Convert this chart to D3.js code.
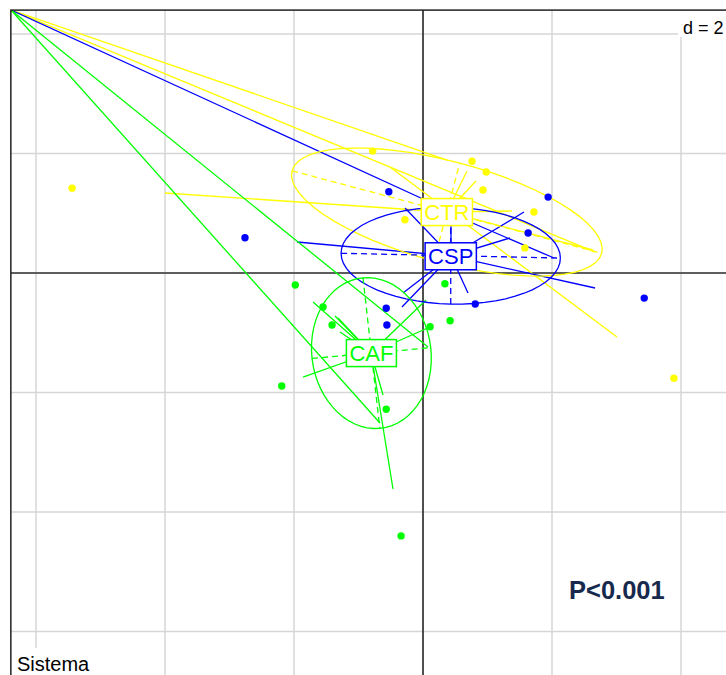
<!DOCTYPE html>
<html><head><meta charset="utf-8">
<script src="https://cdn.jsdelivr.net/npm/d3@7"></script>
<style>body{margin:0;background:#fff}svg{display:block}</style>
</head><body>
<script>
// ---- data (factorial coordinates) ----
const classes = ["CTR", "CSP", "CAF"];
const classColors = ["#ffff00", "#0000ff", "#00ff00"];
const gridTicks = [-6, -4, -2, 0, 2, 4];
const gridStep = "d = 2";
const panelLabel = "Sistema";
const pLabel = "P<0.001";

// points per class [x, y]
const ptsCTR = [[-5.44,1.42],[-0.78,2.04],[0.76,1.87],[0.98,1.69],[0.93,1.39],[1.72,1.02],[1.58,0.42],[-0.28,0.89],[3.89,-1.76]];
const ptsCSP = [[-2.76,0.59],[-0.53,1.36],[1.94,1.27],[1.63,0.67],[0.81,-0.52],[-0.57,-0.59],[-0.56,-0.87],[3.43,-0.42]];
const ptsCAF = [[-1.98,-0.20],[-1.55,-0.57],[-1.41,-0.87],[0.34,-0.18],[0.42,-0.80],[0.11,-0.90],[-2.19,-1.89],[-0.57,-2.28],[-0.34,-4.40]];

// class label positions
const centroids = [[0.37,1.02],[0.43,0.28],[-0.80,-1.34]];

// ellipses: center, semi-axis 1, semi-axis 2
const ellCenters = [[0.37,1.02],[0.43,0.29],[-0.80,-1.34]];
const ellAxis1 = [[2.40,-0.69],[1.70,-0.04],[0.13,-1.26]];
const ellAxis2 = [[0.20,0.82],[0.00,0.81],[0.92,0.09]];

// star segments [x1, y1, x2, y2]
const segCTR = [
  [-6.388,4.402, 2.667,0.351],
  [-6.388,4.402, 0.372,1.891],
  [0.372,1.021, -4.0,1.339],
  [-0.512,1.774, 3.008,-1.071],
  [0.372,1.021, 0.682,1.707],
  [0.372,1.021, 0.822,1.540],
  [0.372,1.021, 1.380,1.038],
  [0.372,1.021, 2.636,0.385]
];
const segCSP = [
  [-6.388,4.402, 0.372,1.054],
  [0.434,0.285, -0.279,1.088],
  [0.434,0.285, -1.953,0.519],
  [0.434,0.285, 0.434,0.971],
  [0.372,1.021, 2.031,0.251],
  [0.434,0.285, 1.566,1.021],
  [0.434,0.285, 1.349,0.586],
  [0.434,0.285, 2.667,-0.251],
  [0.434,0.285, -0.310,-0.335],
  [0.434,0.285, -0.326,-0.569],
  [0.434,0.285, 0.698,-0.335]
];
const segCAF = [
  [-6.388,4.402, -0.667,-2.510],
  [-6.388,4.402, 0.078,-1.238],
  [-0.806,-1.339, -1.705,-0.485],
  [-0.806,-1.339, -1.364,-0.720],
  [-0.806,-1.339, -1.318,-0.753],
  [-0.806,-1.339, -1.287,-0.987],
  [-0.806,-1.339, -1.860,-1.741],
  [-0.806,-1.339, 0.047,-0.452],
  [-0.806,-1.339, 0.109,-0.904],
  [-0.806,-1.339, -0.620,-2.042],
  [-0.806,-1.339, -0.465,-3.615]
];

const points = [ptsCTR, ptsCSP, ptsCAF];
const segments = [segCTR, segCSP, segCAF];

// ---- drawing ----
const W = 726, H = 675;
const svg = d3.select("body").append("svg").attr("width", W).attr("height", H)
  .style("font-family", "'Liberation Sans', Arial, sans-serif");

const x = d3.scaleLinear().domain([-6, 4]).range([36, 681]);
const y = d3.scaleLinear().domain([-6, 4]).range([631.5, 34]);
const xmin = -6.39, xmax = 4.9, ymin = -6.9, ymax = 4.4;

svg.append("defs").append("clipPath").attr("id", "clip").append("rect")
  .attr("x", x(xmin)).attr("y", y(ymax))
  .attr("width", x(xmax) - x(xmin)).attr("height", y(ymin) - y(ymax));

const g = svg.append("g").attr("clip-path", "url(#clip)");

// grid
g.selectAll(".vg").data(gridTicks).join("line")
  .attr("x1", d => x(d)).attr("x2", d => x(d))
  .attr("y1", y(ymax)).attr("y2", y(ymin))
  .attr("stroke", "#d6d6d6").attr("stroke-width", 1.5);
g.selectAll(".hg").data(gridTicks).join("line")
  .attr("y1", d => y(d)).attr("y2", d => y(d))
  .attr("x1", x(xmin)).attr("x2", x(xmax))
  .attr("stroke", "#d6d6d6").attr("stroke-width", 1.5);

// axes through origin
g.append("line").attr("x1", x(xmin)).attr("x2", x(xmax)).attr("y1", y(0)).attr("y2", y(0))
  .attr("stroke", "#333").attr("stroke-width", 1.4);
g.append("line").attr("x1", x(0)).attr("x2", x(0)).attr("y1", y(ymax)).attr("y2", y(ymin))
  .attr("stroke", "#111").attr("stroke-width", 1.4);

// star segments
segments.forEach((segs, i) => {
  g.selectAll(null).data(segs).join("line")
    .attr("x1", d => x(d[0])).attr("y1", d => y(d[1]))
    .attr("x2", d => x(d[2])).attr("y2", d => y(d[3]))
    .attr("stroke", classColors[i]).attr("stroke-width", 1.3);
});

// ellipses
const ellLine = d3.line().x(d => x(d[0])).y(d => y(d[1]));
classes.forEach((c, i) => {
  const c0 = ellCenters[i], a = ellAxis1[i], b = ellAxis2[i];
  const pts = d3.range(0, 361, 6).map(t => {
    const r = t * Math.PI / 180;
    return [c0[0] + Math.cos(r) * a[0] + Math.sin(r) * b[0],
            c0[1] + Math.cos(r) * a[1] + Math.sin(r) * b[1]];
  });
  g.append("path").attr("d", ellLine(pts)).attr("fill", "none")
    .attr("stroke", classColors[i]).attr("stroke-width", 1.3);
  [a, b].forEach(v => {
    g.append("line")
      .attr("x1", x(c0[0] - v[0])).attr("y1", y(c0[1] - v[1]))
      .attr("x2", x(c0[0] + v[0])).attr("y2", y(c0[1] + v[1]))
      .attr("stroke", classColors[i]).attr("stroke-width", 1.3)
      .attr("stroke-dasharray", "6,4");
  });
});

// points
points.forEach((pts, i) => {
  g.selectAll(null).data(pts).join("circle")
    .attr("cx", d => x(d[0])).attr("cy", d => y(d[1])).attr("r", 3.7)
    .attr("fill", classColors[i]);
});

// class labels
classes.forEach((c, i) => {
  const cx = x(centroids[i][0]), cy = y(centroids[i][1]);
  const lg = g.append("g");
  const t = lg.append("text").attr("x", cx).attr("y", cy + 8)
    .attr("text-anchor", "middle").attr("font-size", 22)
    .attr("fill", classColors[i]).text(c);
  const bb = t.node().getBBox();
  lg.insert("rect", "text")
    .attr("x", cx - bb.width / 2 - 3).attr("y", cy - 13.5)
    .attr("width", bb.width + 6).attr("height", 27)
    .attr("fill", "#fff").attr("stroke", classColors[i]).attr("stroke-width", 1.5);
});

// frame (left and top edges visible)
svg.append("rect").attr("x", x(xmin)).attr("y", y(ymax))
  .attr("width", x(xmax) - x(xmin)).attr("height", y(ymin) - y(ymax))
  .attr("fill", "none").attr("stroke", "#222").attr("stroke-width", 1.5);

// d = 2 box
svg.append("rect").attr("x", 678).attr("y", 11).attr("width", 60).attr("height", 26).attr("fill", "#fff");
svg.append("text").attr("x", 683).attr("y", 34).attr("font-size", 18).attr("fill", "#000").text(gridStep);

// Sistema box
svg.append("rect").attr("x", 12).attr("y", 648).attr("width", 90).attr("height", 30).attr("fill", "#fff");
svg.append("text").attr("x", 17).attr("y", 671).attr("font-size", 20).attr("fill", "#000").text(panelLabel);

// P value
svg.append("text").attr("x", 569).attr("y", 599).attr("font-size", 25.5).attr("font-weight", "bold")
  .attr("fill", "#17294d").text(pLabel);
</script>
</body></html>
